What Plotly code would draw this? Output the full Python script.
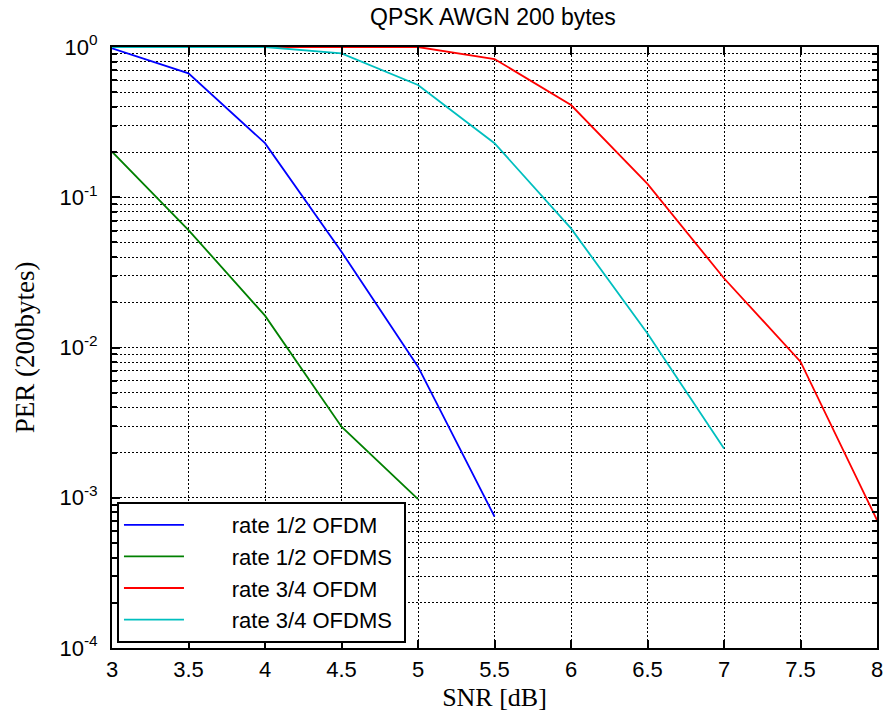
import plotly.graph_objects as go

snr_r12_ofdm = [3, 3.5, 4, 4.5, 5, 5.5]
per_r12_ofdm = [0.98, 0.668, 0.229, 0.0434, 0.00745, 0.00075]

snr_r12_ofdms = [3, 3.5, 4, 4.5, 5]
per_r12_ofdms = [0.201, 0.0605, 0.0163, 0.00297, 0.00098]

snr_r34_ofdm = [3, 3.5, 4, 4.5, 5, 5.5, 6, 6.5, 7, 7.5, 8]
per_r34_ofdm = [1.0, 1.0, 1.0, 1.0, 1.0, 0.832, 0.411, 0.1226, 0.0289, 0.00805, 0.00071]

snr_r34_ofdms = [3, 3.5, 4, 4.5, 5, 5.5, 6, 6.5, 7]
per_r34_ofdms = [1.0, 1.0, 1.0, 0.908, 0.559, 0.229, 0.062, 0.0124, 0.00213]

x_ticks = [3, 3.5, 4, 4.5, 5, 5.5, 6, 6.5, 7, 7.5, 8]
x_ticktext = ["3", "3.5", "4", "4.5", "5", "5.5", "6", "6.5", "7", "7.5", "8"]
y_ticks = [1e-4, 1e-3, 1e-2, 1e-1, 1]
y_ticktext = ["10<sup>-4</sup>", "10<sup>-3</sup>", "10<sup>-2</sup>", "10<sup>-1</sup>", "10<sup>0</sup>"]

series_names = ["rate 1/2 OFDM", "rate 1/2 OFDMS", "rate 3/4 OFDM", "rate 3/4 OFDMS"]
series_colors = ["#0000FF", "#008000", "#FF0000", "#00BFBF"]
series_x = [snr_r12_ofdm, snr_r12_ofdms, snr_r34_ofdm, snr_r34_ofdms]
series_y = [per_r12_ofdm, per_r12_ofdms, per_r34_ofdm, per_r34_ofdms]

pad = "\u00a0" * 7

fig = go.Figure()
for name, xs, ys, col in zip(series_names, series_x, series_y, series_colors):
    fig.add_trace(go.Scatter(x=xs, y=ys, mode="lines", name=pad + name + "\u00a0",
                             line=dict(color=col, width=1.8)))

sans = "Liberation Sans, Arial, sans-serif"
serif = "Liberation Serif, Times New Roman, serif"
grid_dash = "2px,2px"

fig.update_layout(
    width=889, height=719,
    margin=dict(l=112, r=12, t=47, b=71, autoexpand=False),
    paper_bgcolor="white", plot_bgcolor="white",
    title=dict(text="QPSK AWGN 200 bytes", x=0.5545, xanchor="center",
               y=0.987, yanchor="top", font=dict(family=sans, size=23, color="black")),
    showlegend=True,
    legend=dict(x=0.0065, y=0.0083, xanchor="left", yanchor="bottom",
                bgcolor="white", bordercolor="black", borderwidth=2,
                font=dict(family=sans, size=22, color="black"),
                itemwidth=60, tracegroupgap=0),
)

fig.update_xaxes(
    range=[3, 8], tickmode="array", tickvals=x_ticks, ticktext=x_ticktext,
    showline=True, linecolor="black", linewidth=2, mirror="ticks",
    ticks="inside", ticklen=8, tickwidth=1.5, tickcolor="black",
    showgrid=True, gridcolor="black", gridwidth=1, griddash=grid_dash,
    zeroline=False, ticklabelstandoff=1, automargin=False,
    tickfont=dict(family=sans, size=22, color="black"),
    title=dict(text="SNR [dB]", font=dict(family=serif, size=26, color="black"), standoff=6),
)

fig.update_yaxes(
    type="log", range=[-4, 0], tickmode="array", tickvals=y_ticks, ticktext=y_ticktext,
    showline=True, linecolor="black", linewidth=2, mirror="ticks",
    ticks="inside", ticklen=8, tickwidth=1.5, tickcolor="black",
    showgrid=True, gridcolor="black", gridwidth=1, griddash=grid_dash,
    zeroline=False, ticklabelstandoff=8, automargin=False,
    tickfont=dict(family=sans, size=22, color="black"),
    title=dict(text="PER (200bytes)", font=dict(family=serif, size=27, color="black"), standoff=17),
    minor=dict(dtick="D1", ticks="inside", ticklen=5, tickwidth=1.5, tickcolor="black",
               showgrid=True, gridcolor="black", gridwidth=1, griddash=grid_dash),
)

fig.write_html("out.html")
